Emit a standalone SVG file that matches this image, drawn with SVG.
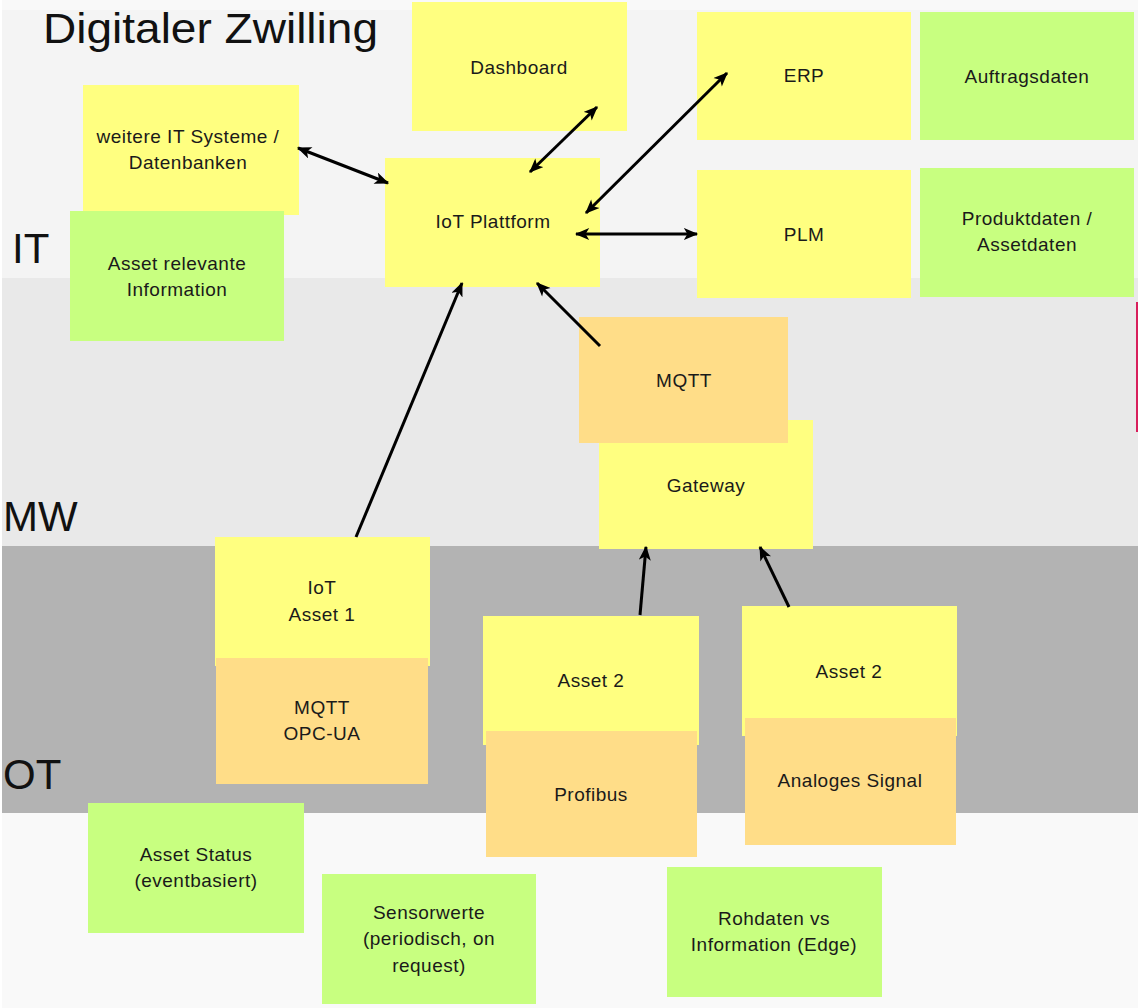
<svg xmlns="http://www.w3.org/2000/svg" width="1138" height="1008" viewBox="0 0 1138 1008">
  <style>
    .note-y { fill: #ffff80; }
    .note-g { fill: #c8ff80; }
    .note-o { fill: #ffdd88; }
    .lbl { font-family: "Liberation Sans", Arial, sans-serif; font-size: 19px; letter-spacing: 0.5px; fill: #1a1a1a; text-anchor: middle; }
    .layer { font-family: "Liberation Sans", Arial, sans-serif; font-size: 42px; fill: #111; }
    .conn { stroke: #000; stroke-width: 3; fill: none; }
  </style>
  <defs>
    <marker id="head" viewBox="0 0 12 10" refX="11" refY="5" markerWidth="15" markerHeight="12" markerUnits="userSpaceOnUse" orient="auto-start-reverse">
      <path d="M0,0 L12,5 L0,10 L3,5 z" fill="#000"/>
    </marker>
  </defs>

  <!-- layer bands -->
  <g id="bands">
    <rect x="0" y="0" width="1138" height="1008" fill="#ffffff"/>
    <rect x="2" y="0" width="1136" height="10" fill="#f9f9f9"/>
    <rect x="2" y="10" width="1136" height="268" fill="#f4f4f4"/>
    <rect x="2" y="278" width="1136" height="268" fill="#e9e9e9"/>
    <rect x="2" y="546" width="1136" height="267" fill="#b3b3b3"/>
    <rect x="2" y="813" width="1136" height="195" fill="#f9f9f9"/>
    <line x1="1137" y1="302" x2="1137" y2="432" stroke="#d81e5b" stroke-width="2"/>
  </g>

  <!-- titles -->
  <g id="labels">
    <text class="layer" x="43" y="43" textLength="335" lengthAdjust="spacingAndGlyphs">Digitaler Zwilling</text>
    <text class="layer" x="12" y="263">IT</text>
    <text class="layer" x="3" y="531">MW</text>
    <text class="layer" x="3" y="789">OT</text>
  </g>

  <!-- IT layer -->
  <g id="dashboard">
    <rect class="note-y" x="412" y="2" width="215" height="129"/>
    <text class="lbl" x="519" y="74">Dashboard</text>
  </g>
  <g id="erp">
    <rect class="note-y" x="697" y="12" width="214" height="128"/>
    <text class="lbl" x="804" y="82">ERP</text>
  </g>
  <g id="auftragsdaten">
    <rect class="note-g" x="920" y="12" width="214" height="128"/>
    <text class="lbl" x="1027" y="83">Auftragsdaten</text>
  </g>
  <g id="weitere-it">
    <rect class="note-y" x="83" y="85" width="216" height="130"/>
    <text class="lbl" x="188" y="143">weitere IT Systeme /</text>
    <text class="lbl" x="188" y="169">Datenbanken</text>
  </g>
  <g id="asset-info">
    <rect class="note-g" x="70" y="211" width="214" height="130"/>
    <text class="lbl" x="177" y="270">Asset relevante</text>
    <text class="lbl" x="177" y="296">Information</text>
  </g>
  <g id="iot-plattform">
    <rect class="note-y" x="385" y="158" width="215" height="129"/>
    <text class="lbl" x="493" y="228">IoT Plattform</text>
  </g>
  <g id="plm">
    <rect class="note-y" x="697" y="170" width="214" height="128"/>
    <text class="lbl" x="804" y="241">PLM</text>
  </g>
  <g id="produktdaten">
    <rect class="note-g" x="920" y="168" width="214" height="129"/>
    <text class="lbl" x="1027" y="225">Produktdaten /</text>
    <text class="lbl" x="1027" y="251">Assetdaten</text>
  </g>

  <!-- MW layer -->
  <g id="gateway">
    <rect class="note-y" x="599" y="420" width="214" height="129"/>
    <text class="lbl" x="706" y="492">Gateway</text>
  </g>
  <g id="mqtt">
    <rect class="note-o" x="579" y="317" width="209" height="126"/>
    <text class="lbl" x="684" y="387">MQTT</text>
  </g>

  <!-- OT layer -->
  <g id="iot-asset1">
    <rect class="note-y" x="215" y="537" width="215" height="129"/>
    <text class="lbl" x="322" y="594">IoT</text>
    <text class="lbl" x="322" y="621">Asset 1</text>
  </g>
  <g id="proto-asset1">
    <rect class="note-o" x="216" y="658" width="212" height="126"/>
    <text class="lbl" x="322" y="714">MQTT</text>
    <text class="lbl" x="322" y="740">OPC-UA</text>
  </g>
  <g id="asset2-a">
    <rect class="note-y" x="483" y="616" width="216" height="129"/>
    <text class="lbl" x="591" y="687">Asset 2</text>
  </g>
  <g id="profibus">
    <rect class="note-o" x="486" y="731" width="211" height="126"/>
    <text class="lbl" x="591" y="801">Profibus</text>
  </g>
  <g id="asset2-b">
    <rect class="note-y" x="742" y="606" width="215" height="130"/>
    <text class="lbl" x="849" y="678">Asset 2</text>
  </g>
  <g id="analog">
    <rect class="note-o" x="745" y="718" width="211" height="127"/>
    <text class="lbl" x="850" y="787">Analoges Signal</text>
  </g>

  <!-- notes below -->
  <g id="asset-status">
    <rect class="note-g" x="88" y="803" width="216" height="130"/>
    <text class="lbl" x="196" y="861">Asset Status</text>
    <text class="lbl" x="196" y="887">(eventbasiert)</text>
  </g>
  <g id="sensorwerte">
    <rect class="note-g" x="322" y="874" width="214" height="130"/>
    <text class="lbl" x="429" y="919">Sensorwerte</text>
    <text class="lbl" x="429" y="945">(periodisch, on</text>
    <text class="lbl" x="429" y="972">request)</text>
  </g>
  <g id="rohdaten">
    <rect class="note-g" x="667" y="867" width="215" height="130"/>
    <text class="lbl" x="774" y="925">Rohdaten vs</text>
    <text class="lbl" x="774" y="951">Information (Edge)</text>
  </g>

  <!-- connectors -->
  <g id="connectors">
    <line class="conn" x1="298" y1="148" x2="388" y2="183" marker-start="url(#head)" marker-end="url(#head)"/>
    <line class="conn" x1="597" y1="107" x2="530" y2="172" marker-start="url(#head)" marker-end="url(#head)"/>
    <line class="conn" x1="727" y1="73" x2="586" y2="213" marker-start="url(#head)" marker-end="url(#head)"/>
    <line class="conn" x1="576" y1="234" x2="697" y2="234" stroke-width="4.5" marker-start="url(#head)" marker-end="url(#head)"/>
    <line class="conn" x1="356" y1="537" x2="462" y2="283" marker-end="url(#head)"/>
    <line class="conn" x1="600" y1="346" x2="537" y2="283" marker-end="url(#head)"/>
    <line class="conn" x1="640" y1="615" x2="646" y2="547" marker-end="url(#head)"/>
    <line class="conn" x1="789" y1="607" x2="760" y2="547" marker-end="url(#head)"/>
  </g>
</svg>
